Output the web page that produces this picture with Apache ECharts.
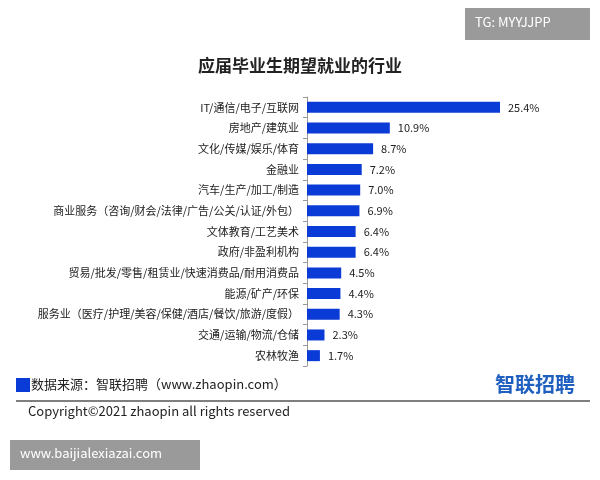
<!DOCTYPE html>
<html>
<head>
<meta charset="utf-8">
<script src="https://cdn.jsdelivr.net/npm/echarts@6/dist/echarts.min.js"></script>
<style>
  body { margin: 0; background: #fff; }
  #chart { width: 600px; height: 480px; }
</style>
</head>
<body>
<div id="chart"></div>
<script>
// 行业及占比
var categories = ['IT/通信/电子/互联网', '房地产/建筑业', '文化/传媒/娱乐/体育', '金融业', '汽车/生产/加工/制造',
  '商业服务（咨询/财会/法律/广告/公关/认证/外包）', '文体教育/工艺美术', '政府/非盈利机构',
  '贸易/批发/零售/租赁业/快速消费品/耐用消费品', '能源/矿产/环保', '服务业（医疗/护理/美容/保健/酒店/餐饮/旅游/度假）',
  '交通/运输/物流/仓储', '农林牧渔'];
var values = [25.4, 10.9, 8.7, 7.2, 7.0, 6.9, 6.4, 6.4, 4.5, 4.4, 4.3, 2.3, 1.7];

var font = '"Noto Sans CJK SC", sans-serif';
var myChart = echarts.init(document.getElementById('chart'));
myChart.setOption({
  title: {
    text: '应届毕业生期望就业的行业',
    left: 'center', top: 52,
    textStyle: { fontSize: 17, fontWeight: 'bold', color: '#222', fontFamily: font }
  },
  grid: { left: 307, right: 100, top: 97, bottom: 114 },
  xAxis: { type: 'value', min: 0, max: 25.4, show: false },
  yAxis: {
    type: 'category', inverse: true, data: categories,
    axisLine: { lineStyle: { color: '#999' } },
    axisTick: { show: true, length: 4, lineStyle: { color: '#999' } },
    axisLabel: { color: '#222', fontSize: 11, fontFamily: font, margin: 8 }
  },
  series: [{
    type: 'bar', data: values, barWidth: 11,
    itemStyle: { color: '#0a3bd6' },
    label: {
      show: true, position: 'right', distance: 8, color: '#222', fontSize: 11, fontFamily: font,
      formatter: function (p) { return p.value.toFixed(1) + '%'; }
    }
  }],
  graphic: [
    { type: 'rect', shape: { x: 465, y: 8, width: 125, height: 32 }, style: { fill: '#9a9a9a' } },
    { type: 'text', left: 475, top: 16, style: { text: 'TG: MYYJJPP', fill: '#fff', fontSize: 13, fontFamily: font } },
    { type: 'rect', shape: { x: 16, y: 378, width: 14, height: 14 }, style: { fill: '#0a3bd6' } },
    { type: 'text', left: 31, top: 378, style: { text: '数据来源：智联招聘（www.zhaopin.com）', fill: '#222', fontSize: 13, fontFamily: font } },
    { type: 'text', left: 495, top: 374, style: { text: '智联招聘', fill: '#1f5fbf', fontSize: 20, fontWeight: 'bold', fontFamily: font } },
    { type: 'line', shape: { x1: 16, y1: 401, x2: 590, y2: 401 }, style: { stroke: '#555', lineWidth: 1.5 } },
    { type: 'text', left: 28, top: 405, style: { text: 'Copyright©2021 zhaopin all rights reserved', fill: '#222', fontSize: 13, fontFamily: font } },
    { type: 'rect', shape: { x: 10, y: 440, width: 190, height: 30 }, style: { fill: '#9a9a9a' } },
    { type: 'text', left: 20, top: 447, style: { text: 'www.baijialexiazai.com', fill: '#fff', fontSize: 13, fontFamily: font } }
  ]
});
</script>
</body>
</html>
